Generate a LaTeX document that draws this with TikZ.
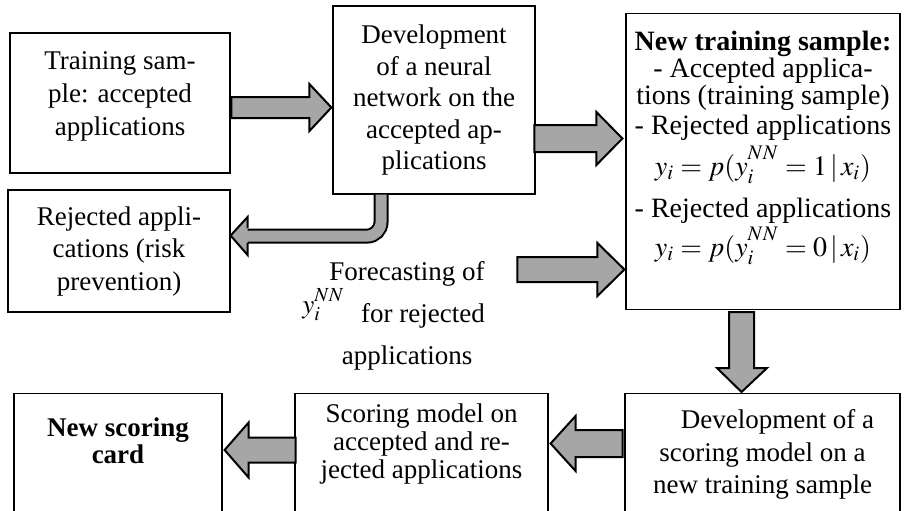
\documentclass[tikz,border=0pt]{standalone}
\usepackage{mathptmx}
\usepackage{fontspec}
\setmainfont{Liberation Serif}
\usetikzlibrary{calc,positioning}

\begin{document}
\begin{tikzpicture}[x=0.5pt,y=-0.5pt,
  box/.style={draw, line width=0.6pt, align=center, inner xsep=0pt},
  blockarrow/.style={draw, line width=1pt, fill=gray!70, line join=miter},
  bentshaft/.style={line width=1pt, draw=black, double=gray!70, double distance=5.5pt, rounded corners=7pt}]
\useasboundingbox (0,0) rectangle (904,510);
\clip (0,0) rectangle (904,510);
\node[box, minimum width=110pt, minimum height=70pt, text depth=9pt, font=\fontsize{13.5}{16.5}\selectfont] (train) at (120,103) {Training sam-\\ple: accepted\\applications};
\node[box, minimum width=101pt, minimum height=94pt, font=\fontsize{13.5}{15.75}\selectfont] (nnet) at (434,100) {Development\\of a neural\\network on the\\accepted ap-\\plications};
\node[box, anchor=north, minimum width=137pt, inner ysep=8.5pt, text depth=18pt, font=\fontsize{14}{13.5}\selectfont] (newsample) at (763,13) {\textbf{New training sample:}\\- Accepted applica-\\tions (training sample)\\[1.5pt]- Rejected applications\\[2pt]$y_i = p(y_i^{\raisebox{3pt}{$\scriptstyle NN$}} =1\,|\,x_i)$\\[6pt]- Rejected applications\\[1pt]$y_i = p(y_i^{\raisebox{3pt}{$\scriptstyle NN$}} =0\,|\,x_i)$};
\node[box, minimum width=111pt, minimum height=61pt, font=\fontsize{13.5}{16.25}\selectfont] (rejected) at (119,251) {Rejected appli-\\cations (risk\\prevention)};
\node[align=center, font=\fontsize{13.5}{21}\selectfont] (fcast) at (407,315.5) {Forecasting of\\\hspace*{16pt}for rejected\\applications};
\node[anchor=base west, inner sep=0pt, font=\fontsize{13.5}{14}\selectfont] (yi) at (302,313) {$y_i^{\raisebox{1pt}{$\scriptstyle NN$}}$};
\node[box, anchor=north, minimum width=104pt, inner ysep=12pt, text depth=40pt, font=\bfseries\fontsize{13.5}{13.5}\selectfont] (card) at (118,393) {New scoring\\card};
\node[box, anchor=north, minimum width=126.5pt, inner ysep=5pt, text depth=40pt, font=\fontsize{13.5}{14}\selectfont] (model) at (421.5,393) {Scoring model on\\accepted and re-\\jected applications};
\node[box, anchor=north, minimum width=137.5pt, inner ysep=8pt, text depth=40pt, font=\fontsize{13.5}{16.25}\selectfont] (devscore) at (762.5,393) {\hspace*{15pt}Development of a\\scoring model on a\\new training sample};
% block arrows, drawn from the tip
\draw[blockarrow] (nnet.west) ++(-1,7.5) -- ++(-22,-23.5) -- ++(0,13) -- ++(-78,0) -- ++(0,21) -- ++(78,0) -- ++(0,13) -- cycle;
\draw[blockarrow] (newsample.north west) ++(-3,125.5) -- ++(-26,-26.5) -- ++(0,13) -- ++(-62,0) -- ++(0,27) -- ++(62,0) -- ++(0,13) -- cycle;
\draw[blockarrow] (newsample.north west) ++(-1,256.5) -- ++(-27,-26.5) -- ++(0,14) -- ++(-80,0) -- ++(0,25) -- ++(80,0) -- ++(0,14) -- cycle;
\draw[blockarrow] (devscore.north) ++(-21,-1) -- ++(25.5,-24) -- ++(-13,0) -- ++(0,-56) -- ++(-25,0) -- ++(0,56) -- ++(-12,0) -- cycle;
\draw[blockarrow] (model.north east) ++(2,50.5) -- ++(25,-27.5) -- ++(0,14) -- ++(47,0) -- ++(0,27) -- ++(-47,0) -- ++(0,14) -- cycle;
\draw[blockarrow] (card.north east) ++(2,57) -- ++(24,-27.5) -- ++(0,15) -- ++(47,0) -- ++(0,25) -- ++(-47,0) -- ++(0,15) -- cycle;
% bent arrow down to the rejected applications
\draw[bentshaft] (nnet.south) ++(-53,0) -- ++(0,41.5) -- ++(-134,0);
\draw[blockarrow] (rejected.east) ++(17,-23) -- ++(0,-11) -- ++(-17,18.5) -- ++(17,19.5) -- ++(0,-12);
\end{tikzpicture}
\end{document}
